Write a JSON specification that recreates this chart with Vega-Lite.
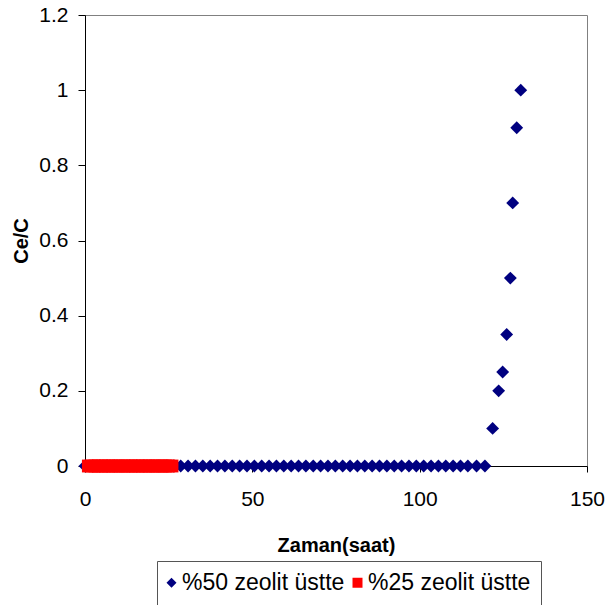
{
  "$schema": "https://vega.github.io/schema/vega-lite/v6.json",
  "width": 502,
  "height": 451,
  "autosize": {"type": "none"},
  "padding": {"left": 85, "top": 15, "right": 28, "bottom": 139},
  "background": "white",
  "config": {
    "font": "Liberation Sans",
    "view": {"stroke": "#808080", "strokeWidth": 1},
    "axis": {"grid": false, "labelFlush": false, "labelOverlap": false, "domainColor": "#000000", "tickColor": "#000000", "labelColor": "#000000", "titleColor": "#000000", "labelFont": "Liberation Sans", "titleFont": "Liberation Sans", "labelFontSize": 21, "titleFontSize": 20, "titleFontWeight": "bold"}
  },
  "data": {
    "values": [
      {"t": 0, "c": 0, "s": "%50 zeolit üstte"},
      {"t": 2.2, "c": 0, "s": "%50 zeolit üstte"},
      {"t": 4.4, "c": 0, "s": "%50 zeolit üstte"},
      {"t": 6.6, "c": 0, "s": "%50 zeolit üstte"},
      {"t": 8.8, "c": 0, "s": "%50 zeolit üstte"},
      {"t": 11, "c": 0, "s": "%50 zeolit üstte"},
      {"t": 13.2, "c": 0, "s": "%50 zeolit üstte"},
      {"t": 15.4, "c": 0, "s": "%50 zeolit üstte"},
      {"t": 17.6, "c": 0, "s": "%50 zeolit üstte"},
      {"t": 19.8, "c": 0, "s": "%50 zeolit üstte"},
      {"t": 22, "c": 0, "s": "%50 zeolit üstte"},
      {"t": 24.2, "c": 0, "s": "%50 zeolit üstte"},
      {"t": 26.4, "c": 0, "s": "%50 zeolit üstte"},
      {"t": 28.6, "c": 0, "s": "%50 zeolit üstte"},
      {"t": 30.8, "c": 0, "s": "%50 zeolit üstte"},
      {"t": 33, "c": 0, "s": "%50 zeolit üstte"},
      {"t": 35.2, "c": 0, "s": "%50 zeolit üstte"},
      {"t": 37.4, "c": 0, "s": "%50 zeolit üstte"},
      {"t": 39.6, "c": 0, "s": "%50 zeolit üstte"},
      {"t": 41.8, "c": 0, "s": "%50 zeolit üstte"},
      {"t": 44, "c": 0, "s": "%50 zeolit üstte"},
      {"t": 46.2, "c": 0, "s": "%50 zeolit üstte"},
      {"t": 48.4, "c": 0, "s": "%50 zeolit üstte"},
      {"t": 50.6, "c": 0, "s": "%50 zeolit üstte"},
      {"t": 52.8, "c": 0, "s": "%50 zeolit üstte"},
      {"t": 55, "c": 0, "s": "%50 zeolit üstte"},
      {"t": 57.2, "c": 0, "s": "%50 zeolit üstte"},
      {"t": 59.4, "c": 0, "s": "%50 zeolit üstte"},
      {"t": 61.6, "c": 0, "s": "%50 zeolit üstte"},
      {"t": 63.8, "c": 0, "s": "%50 zeolit üstte"},
      {"t": 66, "c": 0, "s": "%50 zeolit üstte"},
      {"t": 68.2, "c": 0, "s": "%50 zeolit üstte"},
      {"t": 70.4, "c": 0, "s": "%50 zeolit üstte"},
      {"t": 72.6, "c": 0, "s": "%50 zeolit üstte"},
      {"t": 74.8, "c": 0, "s": "%50 zeolit üstte"},
      {"t": 77, "c": 0, "s": "%50 zeolit üstte"},
      {"t": 79.2, "c": 0, "s": "%50 zeolit üstte"},
      {"t": 81.4, "c": 0, "s": "%50 zeolit üstte"},
      {"t": 83.6, "c": 0, "s": "%50 zeolit üstte"},
      {"t": 85.8, "c": 0, "s": "%50 zeolit üstte"},
      {"t": 88, "c": 0, "s": "%50 zeolit üstte"},
      {"t": 90.2, "c": 0, "s": "%50 zeolit üstte"},
      {"t": 92.4, "c": 0, "s": "%50 zeolit üstte"},
      {"t": 94.6, "c": 0, "s": "%50 zeolit üstte"},
      {"t": 96.8, "c": 0, "s": "%50 zeolit üstte"},
      {"t": 99, "c": 0, "s": "%50 zeolit üstte"},
      {"t": 101.2, "c": 0, "s": "%50 zeolit üstte"},
      {"t": 103.4, "c": 0, "s": "%50 zeolit üstte"},
      {"t": 105.6, "c": 0, "s": "%50 zeolit üstte"},
      {"t": 107.8, "c": 0, "s": "%50 zeolit üstte"},
      {"t": 110, "c": 0, "s": "%50 zeolit üstte"},
      {"t": 112.2, "c": 0, "s": "%50 zeolit üstte"},
      {"t": 114.4, "c": 0, "s": "%50 zeolit üstte"},
      {"t": 117, "c": 0, "s": "%50 zeolit üstte"},
      {"t": 119.5, "c": 0, "s": "%50 zeolit üstte"},
      {"t": 121.8, "c": 0.1, "s": "%50 zeolit üstte"},
      {"t": 123.6, "c": 0.2, "s": "%50 zeolit üstte"},
      {"t": 124.8, "c": 0.25, "s": "%50 zeolit üstte"},
      {"t": 126, "c": 0.35, "s": "%50 zeolit üstte"},
      {"t": 127.1, "c": 0.5, "s": "%50 zeolit üstte"},
      {"t": 127.8, "c": 0.7, "s": "%50 zeolit üstte"},
      {"t": 129, "c": 0.9, "s": "%50 zeolit üstte"},
      {"t": 130.2, "c": 1.0, "s": "%50 zeolit üstte"},
      {"t": 1, "c": 0, "s": "%25 zeolit üstte"},
      {"t": 2, "c": 0, "s": "%25 zeolit üstte"},
      {"t": 3, "c": 0, "s": "%25 zeolit üstte"},
      {"t": 4, "c": 0, "s": "%25 zeolit üstte"},
      {"t": 5, "c": 0, "s": "%25 zeolit üstte"},
      {"t": 6, "c": 0, "s": "%25 zeolit üstte"},
      {"t": 7, "c": 0, "s": "%25 zeolit üstte"},
      {"t": 8, "c": 0, "s": "%25 zeolit üstte"},
      {"t": 9, "c": 0, "s": "%25 zeolit üstte"},
      {"t": 10, "c": 0, "s": "%25 zeolit üstte"},
      {"t": 11, "c": 0, "s": "%25 zeolit üstte"},
      {"t": 12, "c": 0, "s": "%25 zeolit üstte"},
      {"t": 13, "c": 0, "s": "%25 zeolit üstte"},
      {"t": 14, "c": 0, "s": "%25 zeolit üstte"},
      {"t": 15, "c": 0, "s": "%25 zeolit üstte"},
      {"t": 16, "c": 0, "s": "%25 zeolit üstte"},
      {"t": 17, "c": 0, "s": "%25 zeolit üstte"},
      {"t": 18, "c": 0, "s": "%25 zeolit üstte"},
      {"t": 19, "c": 0, "s": "%25 zeolit üstte"},
      {"t": 20, "c": 0, "s": "%25 zeolit üstte"},
      {"t": 21, "c": 0, "s": "%25 zeolit üstte"},
      {"t": 22, "c": 0, "s": "%25 zeolit üstte"},
      {"t": 23, "c": 0, "s": "%25 zeolit üstte"},
      {"t": 24, "c": 0, "s": "%25 zeolit üstte"},
      {"t": 25, "c": 0, "s": "%25 zeolit üstte"},
      {"t": 26, "c": 0, "s": "%25 zeolit üstte"}
    ]
  },
  "mark": {"type": "point", "filled": true, "opacity": 1, "clip": false, "size": 165},
  "encoding": {
    "x": {
      "field": "t", "type": "quantitative",
      "scale": {"domain": [0, 150], "nice": false, "zero": false},
      "axis": {"values": [0, 50, 100, 150], "title": "Zaman(saat)", "tickSize": 6, "labelPadding": 16, "titlePadding": 26}
    },
    "y": {
      "field": "c", "type": "quantitative",
      "scale": {"domain": [0, 1.2], "nice": false},
      "axis": {"values": [0, 0.2, 0.4, 0.6, 0.8, 1, 1.2], "format": "~g", "title": "Ce/C", "tickSize": 7, "labelPadding": 10, "titlePadding": 7}
    },
    "color": {
      "field": "s", "type": "nominal",
      "scale": {"domain": ["%50 zeolit üstte", "%25 zeolit üstte"], "range": ["#000080", "#FF0000"]},
      "legend": {
        "title": null, "orient": "none", "direction": "horizontal",
        "legendX": 72, "legendY": 546,
        "strokeColor": "#555555", "padding": 10,
        "symbolSize": 100, "symbolStrokeWidth": 0, "symbolOffset": -7,
        "labelFont": "Liberation Sans", "labelFontSize": 23, "labelColor": "#000000",
        "labelOffset": -1, "labelLimit": 0, "columnPadding": 7
      }
    },
    "shape": {
      "field": "s", "type": "nominal",
      "scale": {"domain": ["%50 zeolit üstte", "%25 zeolit üstte"], "range": ["diamond", "square"]}
    }
  }
}
